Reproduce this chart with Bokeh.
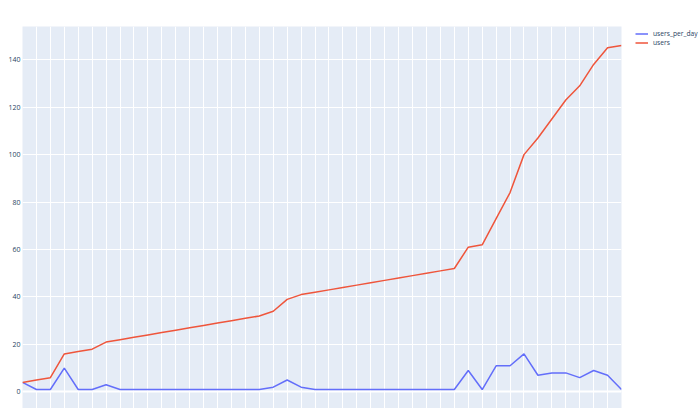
from bokeh.plotting import figure
from bokeh.models import Range1d, Legend, LegendItem, SingleIntervalTicker, FixedTicker
from bokeh.embed import file_html
from bokeh.resources import INLINE

# data (one value per day)
days = list(range(44))
users_per_day = [4, 1, 1, 10, 1, 1, 3, 1, 1, 1,
                 1, 1, 1, 1, 1, 1, 1, 1, 2, 5,
                 2, 1, 1, 1, 1, 1, 1, 1, 1, 1,
                 1, 1, 9, 1, 11, 11, 16, 7, 8, 8,
                 6, 9, 7, 1]
users = [4, 5, 6, 16, 17, 18, 21, 22, 23, 24,
         25, 26, 27, 28, 29, 30, 31, 32, 34, 39,
         41, 42, 43, 44, 45, 46, 47, 48, 49, 50,
         51, 52, 61, 62, 73, 84, 100, 107, 115, 123,
         129, 138, 145, 146]
y_ticks = [0, 20, 40, 60, 80, 100, 120, 140]

FONT = "Open Sans"
TXT = "#2a3f5f"

p = figure(frame_width=599, frame_height=382, output_backend="svg", toolbar_location=None,
           x_range=Range1d(0, 43), y_range=Range1d(-7.0, 154.0),
           min_border_left=22, min_border_right=79, min_border_top=26,
           min_border_bottom=0)
p.background_fill_color = "#E5ECF6"
p.border_fill_color = "white"
p.outline_line_color = None

p.xaxis.visible = False
p.xaxis.ticker = SingleIntervalTicker(interval=1)
p.xgrid.grid_line_color = "white"
p.xgrid.grid_line_width = 1

p.yaxis.ticker = FixedTicker(ticks=y_ticks)
p.yaxis.axis_line_color = None
p.yaxis.major_tick_line_color = None
p.yaxis.minor_tick_line_color = None
p.yaxis.major_tick_out = 0
p.yaxis.major_tick_in = 0
p.yaxis.major_label_standoff = 2
p.yaxis.major_label_text_font = FONT
p.yaxis.major_label_text_font_size = "7px"
p.yaxis.major_label_text_color = TXT
p.ygrid.grid_line_color = "white"
p.ygrid.grid_line_width = 1

# zero line
p.hspan(y=[0], line_color="white", line_width=2)

r1 = p.line(days, users_per_day, line_color="#636efa", line_width=1.5)
r2 = p.line(days, users, line_color="#EF553B", line_width=1.5)

legend = Legend(items=[LegendItem(label="users_per_day", renderers=[r1]),
                       LegendItem(label="users", renderers=[r2])],
                location=(14, 361))
legend.margin = 0
legend.padding = 0
legend.spacing = 0
legend.glyph_width = 13
legend.glyph_height = 9
legend.label_height = 9
legend.label_standoff = 5
legend.label_text_font = FONT
legend.label_text_font_size = "6.7px"
legend.label_text_color = TXT
legend.background_fill_alpha = 0
legend.border_line_color = None
p.add_layout(legend, "right")

open("out.html", "w").write(file_html(p, INLINE))
